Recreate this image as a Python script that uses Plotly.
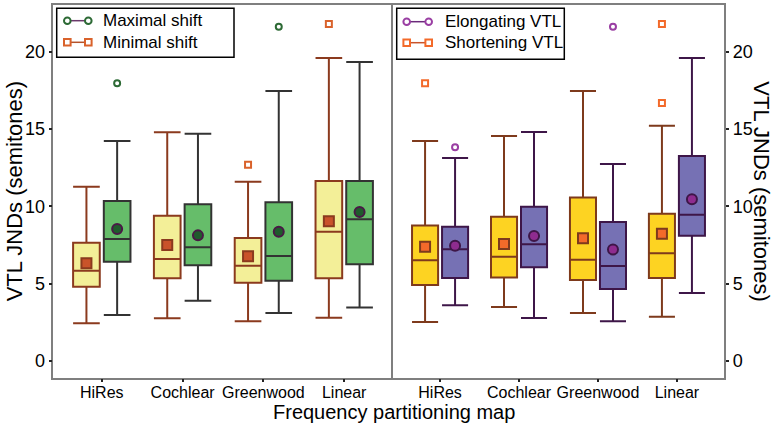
import plotly.graph_objects as go

categories = ["HiRes", "Cochlear", "Greenwood", "Linear"]

# Left panel: Minimal shift
min_lo = [2.44, 2.76, 2.57, 2.80]
min_q1 = [4.80, 5.35, 5.06, 5.35]
min_med = [5.84, 6.59, 6.16, 8.36]
min_q3 = [7.65, 9.39, 7.95, 11.64]
min_hi = [11.27, 14.78, 11.59, 19.59]
min_mean = [6.31, 7.50, 6.77, 9.03]
min_out_cat = ["Greenwood", "Linear"]
min_out_val = [12.69, 21.78]

# Left panel: Maximal shift
max_lo = [2.97, 3.90, 3.10, 3.45]
max_q1 = [6.42, 6.19, 5.19, 6.25]
max_med = [7.89, 7.35, 6.79, 9.16]
max_q3 = [10.34, 10.13, 10.26, 11.64]
max_hi = [14.22, 14.69, 17.45, 19.33]
max_mean = [8.53, 8.12, 8.36, 9.63]
max_out_cat = ["HiRes", "Greenwood"]
max_out_val = [17.95, 21.61]

# Right panel: Shortening VTL
sh_lo = [2.52, 3.49, 3.10, 2.86]
sh_q1 = [4.91, 5.39, 5.24, 5.37]
sh_med = [6.51, 6.74, 6.55, 6.96]
sh_q3 = [8.75, 9.33, 10.56, 9.52]
sh_hi = [14.22, 14.54, 17.45, 15.21]
sh_mean = [7.39, 7.56, 7.93, 8.23]
sh_out_cat = ["HiRes", "Linear", "Linear"]
sh_out_val = [17.95, 21.78, 16.68]

# Right panel: Elongating VTL
el_lo = [3.60, 2.78, 2.57, 4.40]
el_q1 = [5.37, 6.06, 4.65, 8.10]
el_med = [7.22, 7.54, 6.14, 9.46]
el_q3 = [8.68, 9.97, 8.98, 13.25]
el_hi = [13.12, 14.80, 12.73, 19.59]
el_mean = [7.45, 8.08, 7.20, 10.45]
el_out_cat = ["HiRes", "Greenwood"]
el_out_val = [13.81, 21.61]

y_ticks = [0, 5, 10, 15, 20]
left_legend = ["Maximal shift", "Minimal shift"]
right_legend = ["Elongating VTL", "Shortening VTL"]

FONT = "Liberation Sans, Arial, sans-serif"
OFF = 0.19
BW = 0.33
idx = {c: i for i, c in enumerate(categories)}
W, H = 776, 428

fig = go.Figure()


def add_series(xa, ya, sign, lo, q1, med, q3, hi, mean, out_cat, out_val,
               fill, edge, mean_sym, mean_fill, mean_edge, out_sym, out_col):
    xs = [i + sign * OFF for i in range(len(categories))]
    for k in range(len(categories)):
        fig.add_trace(go.Box(
            x=[xs[k]], q1=[q1[k]], median=[med[k]], q3=[q3[k]],
            lowerfence=[lo[k]], upperfence=[hi[k]],
            width=BW, whiskerwidth=1, fillcolor=fill,
            line=dict(color=edge, width=2), boxpoints=False,
            showlegend=False, xaxis=xa, yaxis=ya, hoverinfo="skip"))
    fig.add_trace(go.Scatter(
        x=xs, y=mean, mode="markers", xaxis=xa, yaxis=ya, showlegend=False,
        marker=dict(symbol=mean_sym, size=10, color=mean_fill,
                    line=dict(color=mean_edge, width=2))))
    fig.add_trace(go.Scatter(
        x=[idx[c] + sign * OFF for c in out_cat], y=out_val, mode="markers",
        xaxis=xa, yaxis=ya, showlegend=False,
        marker=dict(symbol=out_sym, size=6, color="white",
                    line=dict(color=out_col, width=2))))


add_series("x", "y", -1, min_lo, min_q1, min_med, min_q3, min_hi, min_mean,
           min_out_cat, min_out_val, "#F3EF98", "#8B3A1E", "square",
           "#C9532A", "#8B3A1E", "square", "#D9622B")
add_series("x", "y", 1, max_lo, max_q1, max_med, max_q3, max_hi, max_mean,
           max_out_cat, max_out_val, "#66BD6A", "#333333", "circle",
           "#1F5B2C", "#4A1846", "circle", "#2D6A35")
add_series("x2", "y2", -1, sh_lo, sh_q1, sh_med, sh_q3, sh_hi, sh_mean,
           sh_out_cat, sh_out_val, "#FDD322", "#7E3A1C", "square",
           "#F36A2A", "#7E3A1C", "square", "#F36A2A")
add_series("x2", "y2", 1, el_lo, el_q1, el_med, el_q3, el_hi, el_mean,
           el_out_cat, el_out_val, "#7671B4", "#3E1648", "circle",
           "#8E2C8F", "#3E1648", "circle", "#9A3FA3")

# Hand-drawn legends (marker-line-marker keys) in paper space
shapes = []
annotations = []


def px(x):
    return x / W


def py(y):
    return 1 - y / H


def legend_box(x0, x1, y0, y1, rows):
    shapes.append(dict(type="rect", xref="paper", yref="paper", layer="above",
                       x0=px(x0), x1=px(x1), y0=py(y1), y1=py(y0),
                       line=dict(color="black", width=1.5), fillcolor="white"))
    for label, yc, mx0, mx1, tx, sym, col, lcol in rows:
        shapes.append(dict(type="line", xref="paper", yref="paper", layer="above",
                           x0=px(mx0), x1=px(mx1), y0=py(yc), y1=py(yc),
                           line=dict(color=lcol, width=1.5)))
        r = 3.3
        for mx in (mx0, mx1):
            shapes.append(dict(type="circle" if sym == "circle" else "rect",
                               xref="paper", yref="paper", layer="above",
                               x0=px(mx - r), x1=px(mx + r),
                               y0=py(yc + r), y1=py(yc - r),
                               line=dict(color=col, width=2), fillcolor="white"))
        annotations.append(dict(text=label, x=px(tx), y=py(yc), xref="paper",
                                yref="paper", showarrow=False, xanchor="left",
                                yanchor="middle", font=dict(size=17)))


legend_box(56.7, 234, 8.3, 57.3, [
    (left_legend[0], 20.7, 67.3, 88.3, 100.5, "circle", "#2D6A35", "#6B3A6B"),
    (left_legend[1], 42.3, 67.3, 88.3, 100.5, "square", "#D9622B", "#B5522A"),
])
legend_box(396.7, 564.3, 8.3, 59.3, [
    (right_legend[0], 21.7, 406.7, 428.7, 443, "circle", "#9A3FA3", "#6B2A7B"),
    (right_legend[1], 42.7, 406.7, 428.7, 443, "square", "#F36A2A", "#C9532A"),
])

xl0, xm, xr1 = 53.3 / W, 392.7 / W, 724.3 / W
yb, yt = 1 - 377.7 / H, 1 - 5 / H

annotations += [
    dict(text="Frequency partitioning map", x=0.508, y=1 - 412 / H,
         xref="paper", yref="paper", showarrow=False, font=dict(size=20),
         xanchor="center", yanchor="middle"),
    dict(text="VTL JNDs (semitones)", x=14 / W, y=(yb + yt) / 2,
         xref="paper", yref="paper", showarrow=False, textangle=-90,
         font=dict(size=22), xanchor="center", yanchor="middle"),
    dict(text="VTL JNDs (semitones)", x=762 / W, y=(yb + yt) / 2,
         xref="paper", yref="paper", showarrow=False, textangle=90,
         font=dict(size=22), xanchor="center", yanchor="middle"),
]

axis_common = dict(showline=True, linecolor="#7F7F7F", linewidth=1.5,
                   showgrid=False, zeroline=False, ticks="outside", ticklen=3,
                   tickcolor="#222222", tickwidth=1.5)

fig.update_layout(
    width=W, height=H, margin=dict(l=0, r=0, t=0, b=0),
    paper_bgcolor="white", plot_bgcolor="white", boxmode="overlay",
    showlegend=False,
    font=dict(family=FONT, color="black"),
    xaxis=dict(domain=[xl0, xm], range=[-0.6, 3.6], tickvals=[0, 1, 2, 3],
               ticktext=categories, tickfont=dict(size=16), anchor="y",
               ticklabelstandoff=-4, mirror=True, **axis_common),
    xaxis2=dict(domain=[xm, xr1], range=[-0.6, 3.6], tickvals=[0, 1, 2, 3],
                ticktext=categories, tickfont=dict(size=16), anchor="y2",
                ticklabelstandoff=-4, mirror=True, **axis_common),
    yaxis=dict(domain=[yb, yt], range=[-1.08, 23.01], tickvals=y_ticks,
               tickfont=dict(size=18), anchor="x", side="left", mirror=False,
               **axis_common),
    yaxis2=dict(domain=[yb, yt], range=[-1.08, 23.01], tickvals=y_ticks,
                tickfont=dict(size=18), anchor="x2", side="right", mirror=True,
                **axis_common),
    shapes=shapes,
    annotations=annotations,
)

fig.write_html("out.html")
